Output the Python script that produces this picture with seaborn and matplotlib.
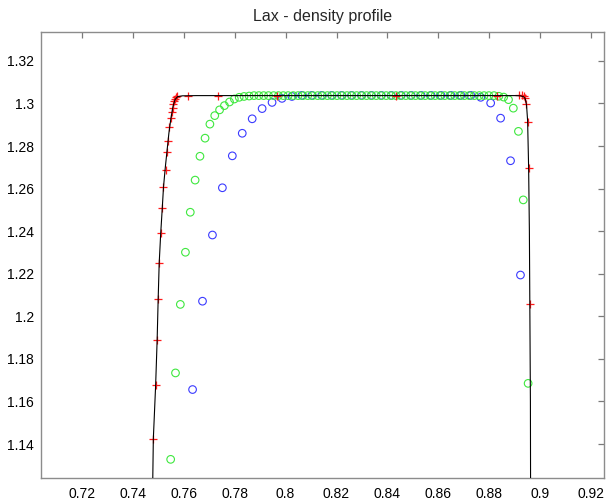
import matplotlib
matplotlib.use("Agg")
import matplotlib.pyplot as plt
import seaborn as sns

# exact solution (black line)
exact_x = [0.7476, 0.7481, 0.7490, 0.7496, 0.7500, 0.7504, 0.7510, 0.7516, 0.7521,
           0.7528, 0.7535, 0.7542, 0.7550, 0.7558, 0.7566, 0.7576, 0.7595, 0.7650,
           0.8900, 0.8922, 0.8934, 0.8941, 0.8946, 0.8950, 0.8954, 0.8957, 0.8959,
           0.8961, 0.8962]
exact_y = [1.1000, 1.1425, 1.1675, 1.1891, 1.2083, 1.2250, 1.2391, 1.2507, 1.2609,
           1.2700, 1.2780, 1.2860, 1.2930, 1.2985, 1.3018, 1.3032, 1.3036, 1.3037,
           1.3037, 1.3036, 1.3032, 1.3022, 1.2990, 1.2920, 1.2700, 1.2400, 1.2000,
           1.1600, 1.1000]

# coarse grid (blue circles)
blue_x = [0.7635, 0.7674, 0.7713, 0.7752, 0.7791, 0.7830, 0.7869, 0.7908, 0.7947,
          0.7986, 0.8025, 0.8064, 0.8103, 0.8142, 0.8181, 0.8220, 0.8259, 0.8298,
          0.8337, 0.8376, 0.8415, 0.8454, 0.8493, 0.8532, 0.8571, 0.8610, 0.8649,
          0.8688, 0.8727, 0.8766, 0.8805, 0.8844, 0.8883, 0.8922]
blue_y = [1.1656, 1.2071, 1.2382, 1.2604, 1.2754, 1.2860, 1.2928, 1.2976, 1.3005,
          1.3024, 1.3033, 1.3038, 1.3038, 1.3038, 1.3038, 1.3038, 1.3038, 1.3038,
          1.3038, 1.3038, 1.3038, 1.3038, 1.3038, 1.3038, 1.3038, 1.3038, 1.3038,
          1.3038, 1.3038, 1.3029, 1.3002, 1.2931, 1.2731, 1.2194]

# finer grid (green circles)
green_x = [0.7549, 0.7568, 0.7587, 0.7607, 0.7626, 0.7645, 0.7664, 0.7684, 0.7703,
           0.7722, 0.7741, 0.7760, 0.7780, 0.7799, 0.7818, 0.7837, 0.7857, 0.7876,
           0.7895, 0.7914, 0.7933, 0.7953, 0.7972, 0.7991, 0.8010, 0.8030, 0.8049,
           0.8068, 0.8087, 0.8106, 0.8126, 0.8145, 0.8164, 0.8183, 0.8202, 0.8222,
           0.8241, 0.8260, 0.8279, 0.8299, 0.8318, 0.8337, 0.8356, 0.8375, 0.8395,
           0.8414, 0.8433, 0.8452, 0.8472, 0.8491, 0.8510, 0.8529, 0.8548, 0.8568,
           0.8587, 0.8606, 0.8625, 0.8645, 0.8664, 0.8683, 0.8702, 0.8721, 0.8741,
           0.8760, 0.8779, 0.8798, 0.8818, 0.8837, 0.8856, 0.8875, 0.8894, 0.8914,
           0.8933, 0.8952]
green_y = [1.1328, 1.1734, 1.2056, 1.2301, 1.2489, 1.2640, 1.2752, 1.2837, 1.2903,
           1.2943, 1.2970, 1.2990, 1.3007, 1.3021, 1.3029, 1.3033, 1.3035, 1.3037,
           1.3037, 1.3037, 1.3037, 1.3037, 1.3037, 1.3037, 1.3037, 1.3037, 1.3037,
           1.3037, 1.3037, 1.3037, 1.3037, 1.3037, 1.3037, 1.3037, 1.3037, 1.3037,
           1.3037, 1.3037, 1.3037, 1.3037, 1.3037, 1.3037, 1.3037, 1.3037, 1.3037,
           1.3037, 1.3037, 1.3037, 1.3037, 1.3037, 1.3037, 1.3037, 1.3037, 1.3037,
           1.3037, 1.3037, 1.3037, 1.3037, 1.3037, 1.3037, 1.3037, 1.3037, 1.3037,
           1.3037, 1.3037, 1.3037, 1.3037, 1.3034, 1.3030, 1.3018, 1.2978, 1.2869,
           1.2547, 1.1685]

# adaptive points (red pluses)
red_x = [0.7481, 0.7490, 0.7496, 0.7500, 0.7504, 0.7510, 0.7516, 0.7520, 0.7530,
         0.7534, 0.7538, 0.7543, 0.7549, 0.7553, 0.7557, 0.7559, 0.7563, 0.7566,
         0.7570, 0.7575, 0.7618, 0.7733, 0.7967, 0.8435, 0.8831, 0.8915, 0.8929,
         0.8935, 0.8940, 0.8944, 0.8950, 0.8954, 0.8958]
red_y = [1.1425, 1.1675, 1.1891, 1.2083, 1.2250, 1.2391, 1.2507, 1.2609, 1.2688,
         1.2771, 1.2825, 1.2888, 1.2931, 1.2958, 1.2981, 1.2997, 1.3013, 1.3021,
         1.3029, 1.3033, 1.3036, 1.3037, 1.3037, 1.3037, 1.3037, 1.3039, 1.3041,
         1.3036, 1.3028, 1.2997, 1.2915, 1.2696, 1.2057]

xticks = [0.72, 0.74, 0.76, 0.78, 0.8, 0.82, 0.84, 0.86, 0.88, 0.9, 0.92]
xtick_labels = ["0.72", "0.74", "0.76", "0.78", "0.8", "0.82", "0.84", "0.86", "0.88", "0.9", "0.92"]
yticks = [1.14, 1.16, 1.18, 1.2, 1.22, 1.24, 1.26, 1.28, 1.3, 1.32]
ytick_labels = ["1.14", "1.16", "1.18", "1.2", "1.22", "1.24", "1.26", "1.28", "1.3", "1.32"]

sns.set_style("white")
plt.rcParams["font.family"] = ["Liberation Sans", "DejaVu Sans"]

fig = plt.figure(figsize=(6.08, 5.04), dpi=100)
ax = fig.add_axes([0.0674, 0.051, 0.9265, 0.886])

sns.scatterplot(x=blue_x, y=blue_y, marker="o", s=30, facecolors="none",
                edgecolor="#3a3aff", linewidth=0.8, ax=ax, zorder=2)
sns.scatterplot(x=green_x, y=green_y, marker="o", s=30, facecolors="none",
                edgecolor="#3ee83e", linewidth=0.8, ax=ax, zorder=3)
sns.scatterplot(x=red_x, y=red_y, marker="+", s=40, color="#ff1a1a",
                linewidth=0.9, ax=ax, zorder=4)
sns.lineplot(x=exact_x, y=exact_y, sort=False, estimator=None, color="black",
             linewidth=0.8, ax=ax, zorder=5)

ax.set_xlim(0.704, 0.9251)
ax.set_ylim(1.1239, 1.3337)
ax.set_xticks(xticks)
ax.set_xticklabels(xtick_labels)
ax.set_yticks(yticks)
ax.set_yticklabels(ytick_labels)

for s in ax.spines.values():
    s.set_visible(True)
    s.set_color("#8c8c8c")
    s.set_linewidth(1.0)
ax.tick_params(axis="both", direction="in", length=4.5, width=0.9, color="#7a7a7a",
               labelsize=10, labelcolor="black", top=True, right=True)
ax.tick_params(axis="x", pad=6)
ax.tick_params(axis="y", pad=5)

ax.set_title("Lax - density profile", fontsize=11.5, pad=8)
ax.set_xlabel("")
ax.set_ylabel("")

fig.savefig("out.png", dpi=100)
